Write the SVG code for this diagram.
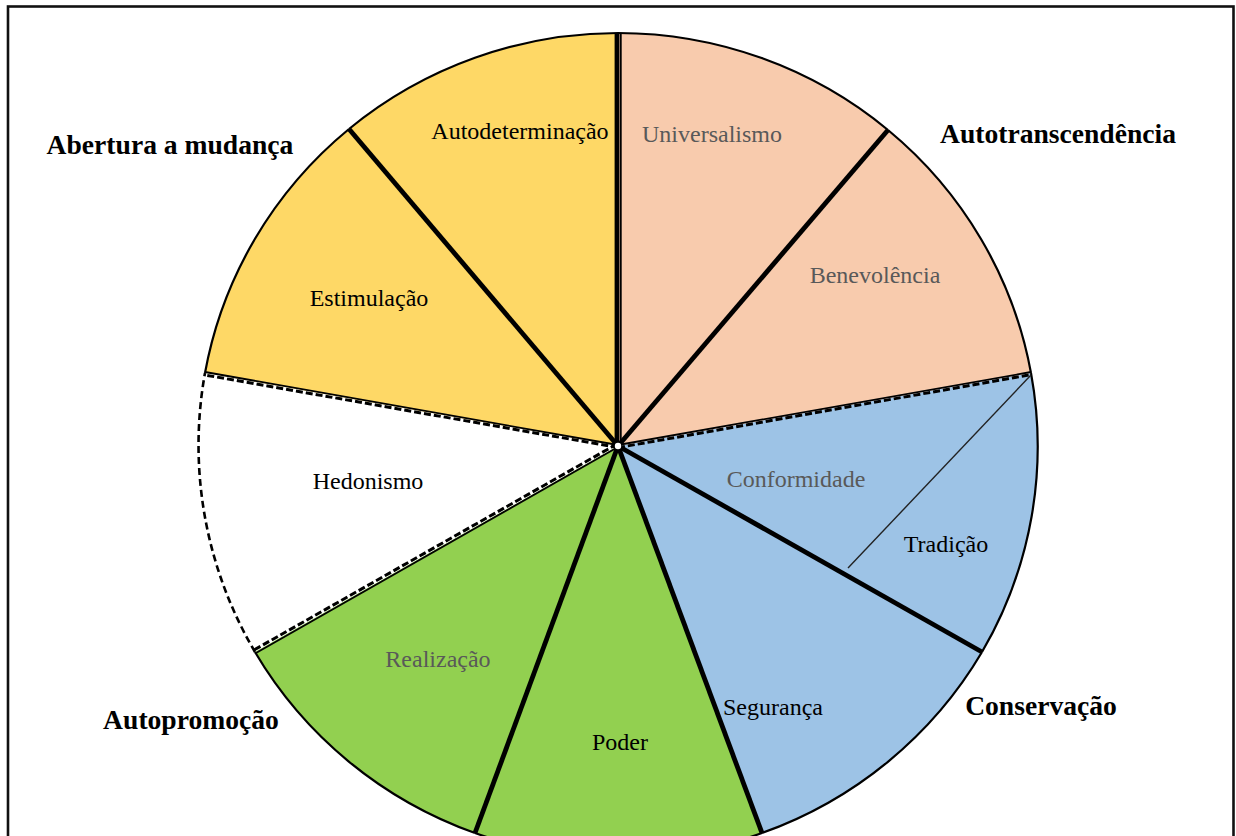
<svg xmlns="http://www.w3.org/2000/svg" width="1236" height="836" viewBox="0 0 1236 836">
  <style>
    .lbl { font-family: "Liberation Serif", "Times New Roman", serif; font-size: 24px; text-anchor: middle; fill: #000; }
    .grey { fill: #595959; }
    .grp { font-family: "Liberation Serif", "Times New Roman", serif; font-size: 27.6px; font-weight: bold; text-anchor: middle; fill: #000; }
    .wedge { stroke: none; }
    .yellow { fill: #FED866; }
    .peach { fill: #F8CBAD; }
    .blue { fill: #9DC3E6; }
    .green { fill: #92D050; }
    .white { fill: #FFFFFF; }
    .rim { fill: none; stroke: #000; stroke-width: 2.2; }
    .rim-dash { fill: none; stroke: #000; stroke-width: 2.6; stroke-dasharray: 7 4; }
    .spoke { stroke: #000; stroke-width: 4.8; stroke-linecap: butt; }
    .spoke-thin { stroke: #000; stroke-width: 1.8; }
    .spoke-dash { stroke: #000; stroke-width: 3; stroke-dasharray: 7 3; }
  </style>

  <rect x="0" y="0" width="1236" height="836" fill="#FFFFFF"/>
  <!-- frame -->
  <rect x="8" y="6.5" width="1225.5" height="900" fill="none" stroke="#111" stroke-width="2.6"/>

  <!-- wedges: centre (618,446), ellipse rx 420 ry 413 -->
  <g id="autodeterminacao">
    <path class="wedge yellow" d="M618,446 L349,129 A420,413 0 0 1 618,33 Z"/>
    <path class="rim" d="M349,129 A420,413 0 0 1 618,33"/>
    <text class="lbl" x="520" y="139">Autodeterminação</text>
  </g>
  <g id="estimulacao">
    <path class="wedge yellow" d="M618,446 L205,373 A420,413 0 0 1 349,129 Z"/>
    <path class="rim" d="M205,373 A420,413 0 0 1 349,129"/>
    <text class="lbl" x="369" y="306">Estimulação</text>
  </g>
  <g id="hedonismo">
    <path class="wedge white" d="M618,446 L255,652 A420,413 0 0 1 205,373 Z"/>
    <path class="rim-dash" d="M255,652 A420,413 0 0 1 205,373"/>
    <text class="lbl" x="368" y="489">Hedonismo</text>
  </g>
  <g id="realizacao">
    <path class="wedge green" d="M618,446 L475,833 A420,413 0 0 1 255,652 Z"/>
    <path class="rim" d="M475,833 A420,413 0 0 1 255,652"/>
    <text class="lbl grey" x="438" y="667">Realização</text>
  </g>
  <g id="poder">
    <path class="wedge green" d="M618,446 L762,833 A420,413 0 0 1 475,833 Z"/>
    <path class="rim" d="M762,833 A420,413 0 0 1 475,833"/>
    <text class="lbl" x="620" y="750">Poder</text>
  </g>
  <g id="seguranca">
    <path class="wedge blue" d="M618,446 L982,652 A420,413 0 0 1 762,833 Z"/>
    <path class="rim" d="M982,652 A420,413 0 0 1 762,833"/>
    <text class="lbl" x="773" y="715">Segurança</text>
  </g>
  <g id="conformidade-tradicao">
    <path class="wedge blue" d="M618,446 L1031,373 A420,413 0 0 1 982,652 Z"/>
    <path class="rim" d="M1031,373 A420,413 0 0 1 982,652"/>
    <line x1="1031" y1="375" x2="848" y2="568" stroke="#222" stroke-width="1.4"/>
    <text class="lbl grey" x="796" y="487">Conformidade</text>
    <text class="lbl" x="946" y="552">Tradição</text>
  </g>
  <g id="benevolencia">
    <path class="wedge peach" d="M618,446 L888,130 A420,413 0 0 1 1031,373 Z"/>
    <path class="rim" d="M888,130 A420,413 0 0 1 1031,373"/>
    <text class="lbl grey" x="875" y="283">Benevolência</text>
  </g>
  <g id="universalismo">
    <path class="wedge peach" d="M618,446 L618,33 A420,413 0 0 1 888,130 Z"/>
    <path class="rim" d="M618,33 A420,413 0 0 1 888,130"/>
    <text class="lbl grey" x="712" y="142">Universalismo</text>
  </g>

  <!-- dividing lines between the value sectors -->
  <g id="connectors">
    <line class="spoke" x1="617" y1="446" x2="617" y2="33"/>
    <line class="spoke-thin" x1="620.8" y1="446" x2="620.8" y2="33"/>
    <line class="spoke" x1="618" y1="446" x2="888" y2="130"/>
    <line class="spoke-thin" x1="618" y1="445" x2="1031" y2="372"/>
    <line class="spoke-dash" x1="618" y1="447.6" x2="1031" y2="374.6"/>
    <line class="spoke" x1="618" y1="446" x2="982" y2="652"/>
    <line class="spoke" x1="618" y1="446" x2="762" y2="833"/>
    <line class="spoke" x1="618" y1="446" x2="475" y2="833"/>
    <line class="spoke-thin" x1="618" y1="447" x2="256" y2="653"/>
    <line class="spoke-dash" x1="617" y1="444" x2="254" y2="650"/>
    <line class="spoke-thin" x1="618" y1="445" x2="205" y2="372"/>
    <line class="spoke-dash" x1="618" y1="447.5" x2="205" y2="375"/>
    <line class="spoke" x1="618" y1="446" x2="349" y2="129"/>
    <circle cx="618" cy="446" r="3.2" fill="#FFFFFF"/>
  </g>

  <!-- group labels -->
  <g id="group-labels">
    <text class="grp" x="170" y="154">Abertura a mudança</text>
    <text class="grp" x="1058" y="143">Autotranscendência</text>
    <text class="grp" x="1041" y="715">Conservação</text>
    <text class="grp" x="191" y="729">Autopromoção</text>
  </g>
</svg>
